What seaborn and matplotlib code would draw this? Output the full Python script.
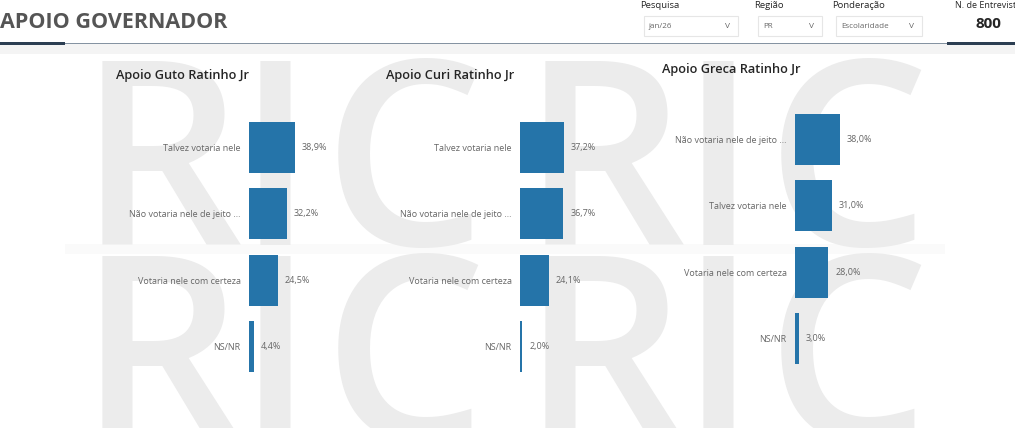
import numpy as np
import pandas as pd
import seaborn as sns
import matplotlib.pyplot as plt
from matplotlib.patches import Rectangle

sns.set_theme(style="white")
plt.rcParams['font.family'] = ['Open Sans', 'DejaVu Sans']

titles = ['Apoio Guto Ratinho Jr', 'Apoio Curi Ratinho Jr', 'Apoio Greca Ratinho Jr']
guto_labels = ['Talvez votaria nele', 'Não votaria nele de jeito ...', 'Votaria nele com certeza', 'NS/NR']
guto_values = [38.9, 32.2, 24.5, 4.4]
curi_labels = ['Talvez votaria nele', 'Não votaria nele de jeito ...', 'Votaria nele com certeza', 'NS/NR']
curi_values = [37.2, 36.7, 24.1, 2.0]
greca_labels = ['Não votaria nele de jeito ...', 'Talvez votaria nele', 'Votaria nele com certeza', 'NS/NR']
greca_values = [38.0, 31.0, 28.0, 3.0]

filter_names = ['Pesquisa', 'Região', 'Ponderação']
filter_values = ['jan/26', 'PR', 'Escolaridade']
n_entrevistas = '800'

W, H = 1015, 428
fig = plt.figure(figsize=(W / 100, H / 100), dpi=100)
fig.patch.set_facecolor('white')


def fx(x):
    return x / W


def fy(y):
    return 1 - y / H


# watermark "RIC RIC" twice, letter by letter
fig.add_artist(Rectangle((fx(65), fy(254)), fx(880), 10 / H, transform=fig.transFigure,
                         facecolor='#fafafa', edgecolor='none', zorder=-3))
for base in [245, 440]:
    for off in [0, 443]:
        for letter, cx in zip('RIC', [160, 275, 405]):
            fig.text(fx(cx + off), fy(base), letter, fontsize=186, fontweight='semibold',
                     color='#ececec', ha='center', va='baseline', zorder=-2)

# header
fig.text(fx(0), fy(22), 'APOIO GOVERNADOR', fontsize=15.5, fontweight='bold',
         color='#555555', va='center', ha='left')
fig.add_artist(Rectangle((0, fy(54)), 1, 10 / H, transform=fig.transFigure,
                         facecolor='#f4f4f4', edgecolor='none', zorder=-1))
fig.add_artist(Rectangle((0, fy(44)), 1, 1.5 / H, transform=fig.transFigure,
                         facecolor='#8593a2', edgecolor='none'))
fig.add_artist(Rectangle((0, fy(44.5)), fx(65), 2.5 / H, transform=fig.transFigure,
                         facecolor='#2c3e52', edgecolor='none'))
fig.add_artist(Rectangle((fx(947), fy(44.5)), fx(68), 2.5 / H, transform=fig.transFigure,
                         facecolor='#2c3e52', edgecolor='none'))

# filters
filter_x = [640, 754, 832]
box_x = [(644, 738), (758, 822), (836, 922)]
for name, val, lx, (b0, b1) in zip(filter_names, filter_values, filter_x, box_x):
    fig.text(fx(lx), fy(6), name, fontsize=6.8, color='#252525', va='center')
    fig.add_artist(Rectangle((fx(b0), fy(36)), fx(b1 - b0), 20 / H, transform=fig.transFigure,
                             facecolor='white', edgecolor='#e6e6e6', lw=0.8))
    fig.text(fx(b0 + 5), fy(27), val, fontsize=5.8, color='#666666', va='center')
    fig.text(fx(b1 - 13), fy(27), 'V', fontsize=6, color='#666666', va='center')
fig.text(fx(955), fy(5), 'N. de Entrevista', fontsize=6.5, color='#252525', va='center')
fig.text(fx(988), fy(24), n_entrevistas, fontsize=11, fontweight='bold',
         color='#252525', va='center', ha='center')

# charts
charts = [
    (guto_labels, guto_values, 249, 147.5, (116, 76)),
    (curi_labels, curi_values, 520, 147.5, (386, 76)),
    (greca_labels, greca_values, 795, 139.5, (662, 69)),
]
pitch = 66.3
for title, (labels, values, left, c0, (tx, ty)) in zip(titles, charts):
    top = c0 - pitch / 2
    ax = fig.add_axes([fx(left), fy(top + 4 * pitch), 118.3 / W, 4 * pitch / H])
    ax.patch.set_alpha(0)
    df = pd.DataFrame({'resposta': labels, 'pct': values})
    sns.barplot(data=df, x='pct', y='resposta', ax=ax, color='#2574a9',
                saturation=1, width=0.77, orient='h', linewidth=0)
    ax.set_xlim(0, 100)
    ax.set_ylim(3.5, -0.5)
    ax.set_xlabel('')
    ax.set_ylabel('')
    ax.set_xticks([])
    ax.tick_params(axis='y', length=0, pad=6, labelsize=6.5, labelcolor='#666666')
    sns.despine(ax=ax, left=True, bottom=True)
    ax.bar_label(ax.containers[0], labels=[f'{v:.1f}%'.replace('.', ',') for v in values],
                 padding=5, fontsize=6.5, color='#666666')
    fig.text(fx(tx), fy(ty), title, fontsize=9.2, fontweight='semibold',
             color='#252525', va='center', ha='left')

fig.savefig('out.png', dpi=100)
